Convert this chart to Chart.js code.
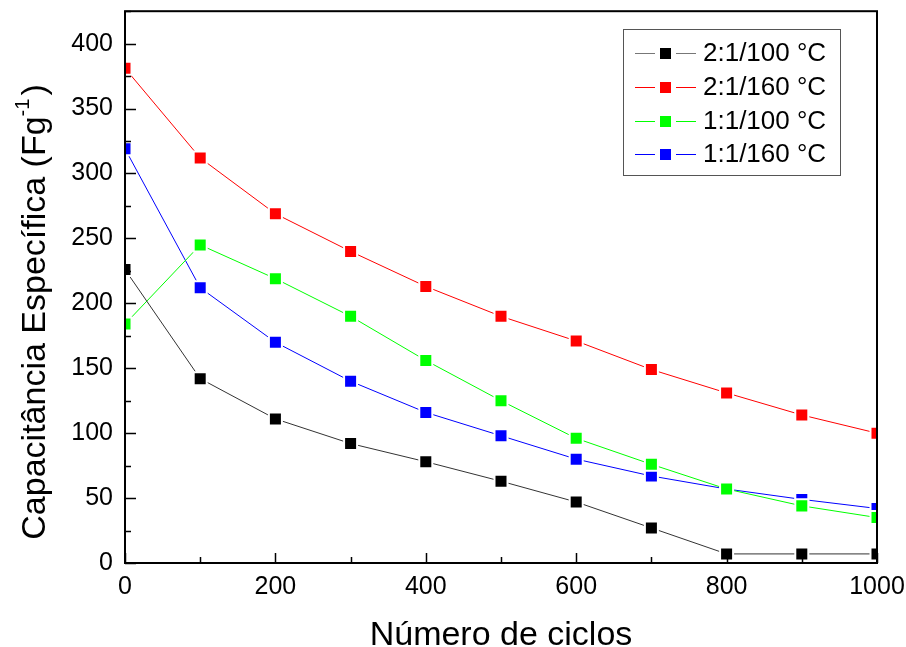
<!DOCTYPE html>
<html>
<head>
<meta charset="utf-8">
<script src="https://cdn.jsdelivr.net/npm/chart.js@4/dist/chart.umd.min.js"></script>
<style>
  html,body{margin:0;padding:0;background:#fff;}
  #wrap{width:906px;height:647px;}
</style>
</head>
<body>
<div id="wrap"><canvas id="chart" width="906" height="647"></canvas></div>
<script>
const cycles = [0, 100, 200, 300, 400, 500, 600, 700, 800, 900, 1000];
const s21_100 = [226, 142, 111, 92, 78, 63, 47, 27, 7, 7, 7];
const s21_160 = [381, 312, 269, 240, 213, 190, 171, 149, 131, 114, 100];
const s11_100 = [184, 245, 219, 190, 156, 125, 96, 76, 57, 44, 35];
const s11_160 = [319, 212, 170, 140, 116, 98, 80, 67, 57, 49, 42];
const labels = ['2:1/100 °C', '2:1/160 °C', '1:1/100 °C', '1:1/160 °C'];
const colors = ['#000000', '#ff0000', '#00ff00', '#0000ff'];
const lineColors = ['#333333', '#ff0000', '#00ff00', '#0000ff'];
const FONT = "'Liberation Sans', Arial, sans-serif";

const series = [s21_100, s21_160, s11_100, s11_160];
const datasets = series.map((vals, i) => ({
  label: labels[i],
  data: vals.map((v, j) => ({x: cycles[j], y: v})),
  borderColor: lineColors[i],
  borderWidth: 1,
  backgroundColor: colors[i],
  pointStyle: 'rect',
  pointRadius: 9.2,
  pointBorderColor: '#ffffff',
  pointBorderWidth: 2,
  pointBackgroundColor: colors[i],
  tension: 0,
  clip: 0
}));

const frame = {
  id: 'frame',
  afterDatasetsDraw(chart){
    const {ctx, chartArea: a, scales: {x, y}} = chart;
    ctx.save();
    ctx.strokeStyle = '#000';
    ctx.lineWidth = 1.5;
    ctx.beginPath();
    for(let v = 0; v <= 425; v += 25){
      const py = Math.round(y.getPixelForValue(v)) + 0.5;
      const len = v % 50 === 0 ? 11 : 6;
      ctx.moveTo(a.left, py); ctx.lineTo(a.left + len, py);
    }
    for(let v = 0; v <= 1000; v += 100){
      const px = Math.round(x.getPixelForValue(v)) + 0.5;
      const len = v % 200 === 0 ? 10 : 6;
      ctx.moveTo(px, a.bottom); ctx.lineTo(px, a.bottom - len);
    }
    ctx.stroke();
    ctx.lineWidth = 2;
    ctx.strokeRect(a.left, a.top, a.right - a.left, a.bottom - a.top);

    // axis titles
    ctx.fillStyle = '#000';
    ctx.font = '34px ' + FONT;
    ctx.textAlign = 'center';
    ctx.textBaseline = 'alphabetic';
    ctx.fillText('Número de ciclos', (a.left + a.right) / 2, 645);

    ctx.save();
    ctx.translate(45, 312);
    ctx.rotate(-Math.PI / 2);
    const main = 'Capacitância Específica (Fg';
    ctx.font = '34px ' + FONT;
    const w1 = ctx.measureText(main).width;
    ctx.font = '20px ' + FONT;
    const w2 = ctx.measureText('-1').width;
    ctx.font = '34px ' + FONT;
    const w3 = ctx.measureText(')').width;
    let sx = -(w1 + w2 + 3 + w3) / 2;
    ctx.textAlign = 'left';
    ctx.fillText(main, sx, 0);
    ctx.font = '20px ' + FONT;
    ctx.fillText('-1', sx + w1, -16);
    ctx.font = '34px ' + FONT;
    ctx.fillText(')', sx + w1 + w2 + 3, 0);
    ctx.restore();

    // legend
    ctx.lineWidth = 1;
    ctx.strokeStyle = '#555';
    ctx.strokeRect(623.5, 29.5, 217, 146);
    const rows = [53, 87, 121, 154];
    ctx.font = '26px ' + FONT;
    ctx.textBaseline = 'middle';
    chart.data.datasets.forEach((d, i) => {
      const ry = rows[i];
      ctx.strokeStyle = i === 0 ? '#777' : d.borderColor;
      ctx.beginPath();
      ctx.moveTo(635, ry + 0.5); ctx.lineTo(655, ry + 0.5);
      ctx.moveTo(676, ry + 0.5); ctx.lineTo(696, ry + 0.5);
      ctx.stroke();
      ctx.fillStyle = d.pointBackgroundColor;
      ctx.fillRect(660, ry - 5, 11, 11);
      ctx.fillStyle = '#000';
      ctx.textAlign = 'left';
      ctx.fillText(d.label, 703, ry + 1);
    });
    ctx.restore();
  }
};

function noPad(s){ s.paddingLeft = 0; s.paddingRight = 0; s.paddingTop = 0; s.paddingBottom = 0; }

new Chart(document.getElementById('chart').getContext('2d'), {
  type: 'line',
  data: {datasets: datasets},
  options: {
    responsive: false,
    animation: false,
    layout: {padding: {top: 7, right: 29, left: 0, bottom: 0}},
    plugins: {legend: {display: false}, tooltip: {enabled: false}},
    scales: {
      x: {
        type: 'linear', min: 0, max: 1000,
        grid: {display: false, drawTicks: false},
        border: {display: false},
        ticks: {stepSize: 200, padding: 9, color: '#000', font: {family: FONT, size: 25},
                callback: v => String(v)},
        afterFit(s){ s.height = 84; noPad(s); }
      },
      y: {
        type: 'linear', min: 0, max: 425,
        grid: {display: false, drawTicks: false},
        border: {display: false},
        ticks: {stepSize: 50, includeBounds: false, padding: 12, color: '#000', font: {family: FONT, size: 25},
                callback: v => String(v)},
        afterFit(s){ s.width = 125; noPad(s); }
      }
    }
  },
  plugins: [frame]
});
</script>
</body>
</html>
